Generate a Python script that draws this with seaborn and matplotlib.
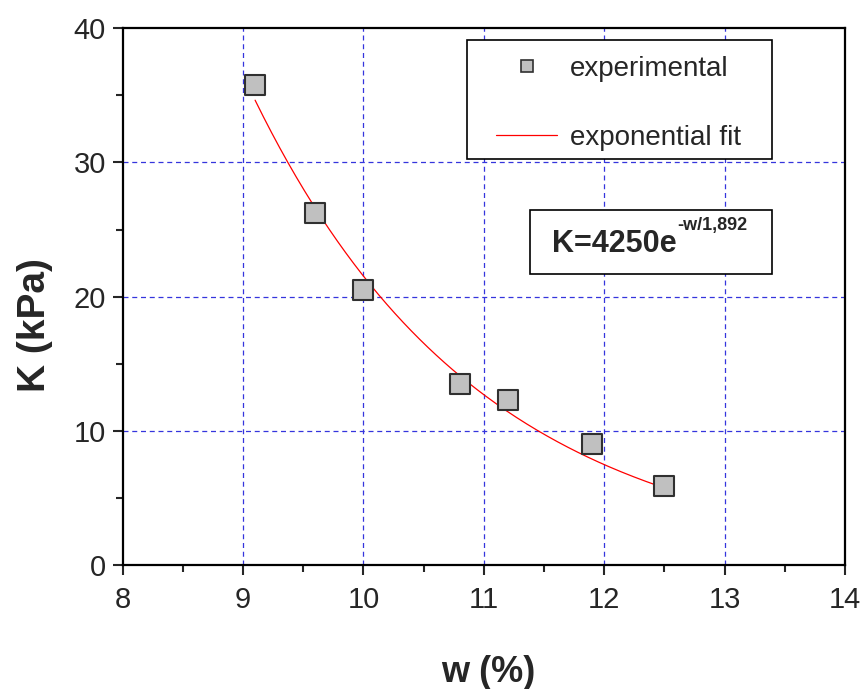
import numpy as np
import pandas as pd
import seaborn as sns
import matplotlib.pyplot as plt
from matplotlib.lines import Line2D
from matplotlib.patches import Rectangle
from matplotlib.ticker import MultipleLocator

w_pct = [9.1, 9.6, 10.0, 10.8, 11.2, 11.9, 12.5]
k_kpa = [35.8, 26.2, 20.5, 13.5, 12.3, 9.0, 5.9]

# fit parameters as printed on the chart: K = A * exp(-w / b)
fit_a = 4250
fit_b = 1.892
fit_range = [9.1, 12.5]

x_ticks = [8, 9, 10, 11, 12, 13, 14]
y_ticks = [0, 10, 20, 30, 40]

sns.set_style("ticks")
plt.rcParams['font.family'] = ['Liberation Sans', 'DejaVu Sans']

fig = plt.figure(figsize=(8.64, 6.89), dpi=100)
ax = fig.add_axes([0.142, 0.18, 0.836, 0.779])

df = pd.DataFrame({"w": w_pct, "K": k_kpa})
wf = np.linspace(fit_range[0], fit_range[1], 200)
fit_df = pd.DataFrame({"w": wf, "K": fit_a * np.exp(-wf / fit_b)})

# grid first so it sits under the marks
for xv in x_ticks[1:-1]:
    ax.axvline(xv, color='#3535dd', lw=0.9, ls=(0, (4, 3)), zorder=0)
for yv in y_ticks[1:-1]:
    ax.axhline(yv, color='#3535dd', lw=0.9, ls=(0, (4, 3)), zorder=0)

sns.lineplot(data=fit_df, x="w", y="K", color='red', lw=0.9, ax=ax, zorder=2)
sns.scatterplot(data=df, x="w", y="K", marker='s', s=190, color='#c0c0c0',
                edgecolor='#303030', linewidth=1.5, ax=ax, zorder=3)

ax.set_xlim(8, 14)
ax.set_ylim(0, 40)
ax.set_xticks(x_ticks)
ax.set_yticks(y_ticks)
ax.xaxis.set_minor_locator(MultipleLocator(0.5))
ax.yaxis.set_minor_locator(MultipleLocator(5))
ax.tick_params(which='major', direction='out', length=7, width=1.5, labelsize=21)
ax.tick_params(which='minor', direction='out', length=5, width=1.5)
ax.tick_params(axis='x', which='major', pad=8)
ax.tick_params(axis='y', which='major', pad=5)
ax.tick_params(top=False, right=False, which='both')
for sp in ax.spines.values():
    sp.set_linewidth(1.6)
    sp.set_color('black')

ax.set_xlabel("w (%)", fontsize=26, fontweight='bold')
ax.set_ylabel("K (kPa)", fontsize=28, fontweight='bold')
ax.xaxis.set_label_coords(0.506, -0.168)
ax.yaxis.set_label_coords(-0.097, 0.447)

# legend: frame drawn on its own so the entries can sit where they do in the original
ax.add_patch(Rectangle((0.476, 0.756), 0.423, 0.222, transform=ax.transAxes,
                       facecolor='white', edgecolor='black', lw=1.2, zorder=4))
handles = [
    Line2D([], [], marker='s', ls='none', markersize=9, markerfacecolor='#c0c0c0',
           markeredgecolor='#303030', markeredgewidth=1.2),
    Line2D([], [], color='red', lw=0.9),
]
leg = ax.legend(handles, ["experimental", "exponential fit"], loc='upper left',
                bbox_to_anchor=(0.517, 0.949), fontsize=20, frameon=False,
                labelspacing=1.55, handlelength=2.2, handletextpad=0.45,
                borderpad=0, borderaxespad=0)
leg.set_zorder(5)

# equation box
ax.add_patch(Rectangle((0.5637, 0.542), 0.335, 0.119, transform=ax.transAxes,
                       facecolor='white', edgecolor='black', lw=1.2, zorder=4))
eq = ax.text(0.594, 0.583, "K=4250e", transform=ax.transAxes, fontsize=22,
             fontweight='bold', ha='left', va='baseline', zorder=5)
ax.annotate("-w/1,892", xy=(1, 1), xycoords=eq, xytext=(0.5, 9),
            textcoords='offset points', fontsize=13, fontweight='bold',
            ha='left', va='top', zorder=5)

fig.savefig("out.png", dpi=100)
